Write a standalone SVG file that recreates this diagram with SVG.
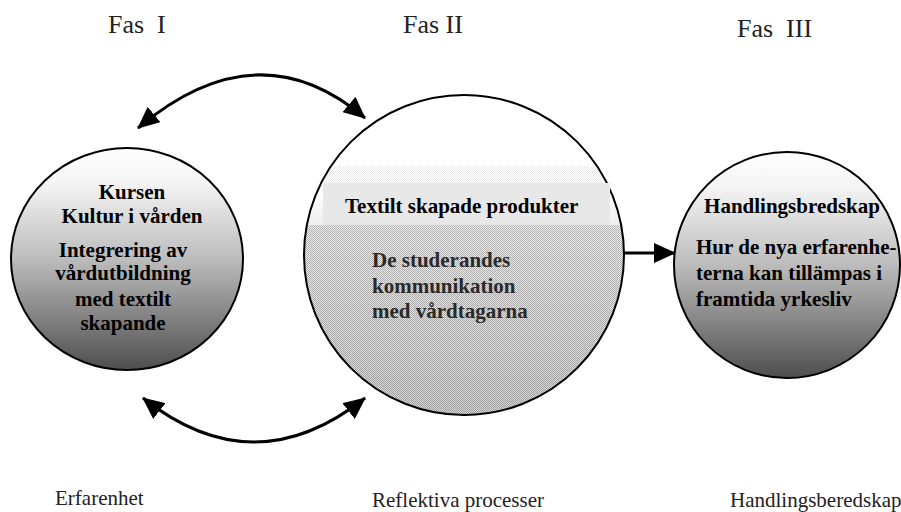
<svg xmlns="http://www.w3.org/2000/svg" width="901" height="512" viewBox="0 0 901 512">
  <style>
    .phase { font-family: "Liberation Serif", "Times New Roman", serif; font-size: 26px; fill: #222; white-space: pre; }
    .foot { font-family: "Liberation Serif", "Times New Roman", serif; font-size: 21px; fill: #222; }
    .node-text { font-family: "Liberation Serif", "Times New Roman", serif; font-size: 21px; font-weight: bold; fill: #000; }
    .soft-text { font-family: "Liberation Serif", "Times New Roman", serif; font-size: 21px; font-weight: bold; fill: #2a2a2a; }
    .ring { stroke: #000; stroke-width: 2; }
    .link { fill: none; stroke: #000; stroke-width: 3; }
  </style>
  <defs>
    <linearGradient id="sideFill" x1="0" y1="0" x2="0" y2="1">
      <stop offset="0" stop-color="#ffffff"/>
      <stop offset="0.15" stop-color="#f5f5f5"/>
      <stop offset="0.5" stop-color="#bcbcbc"/>
      <stop offset="1" stop-color="#4e4e4e"/>
    </linearGradient>
    <linearGradient id="midFill" gradientUnits="userSpaceOnUse" x1="0" y1="95" x2="0" y2="415">
      <stop offset="0" stop-color="#ffffff"/>
      <stop offset="0.3" stop-color="#ffffff"/>
      <stop offset="0.42" stop-color="#ececec"/>
      <stop offset="1" stop-color="#d2d2d2"/>
    </linearGradient>
    <pattern id="halftone" width="2" height="2" patternUnits="userSpaceOnUse">
      <rect x="0" y="0" width="1" height="1" fill="#000"/>
      <rect x="1" y="1" width="1" height="1" fill="#000"/>
    </pattern>
    <clipPath id="midClip">
      <circle cx="464" cy="255" r="160"/>
    </clipPath>
    <marker id="head" viewBox="0 0 22 20" refX="21" refY="10" markerWidth="22" markerHeight="20" markerUnits="userSpaceOnUse" orient="auto-start-reverse">
      <path d="M0 0 L22 10 L0 20 Z" fill="#000"/>
    </marker>
  </defs>

  <!-- phase headings -->
  <text class="phase" x="108" y="33">Fas  I</text>
  <text class="phase" x="403" y="33">Fas II</text>
  <text class="phase" x="737" y="37">Fas  III</text>

  <!-- connectors -->
  <g id="connectors">
    <path class="link" d="M 138 128 Q 258 27 365 118" marker-start="url(#head)" marker-end="url(#head)"/>
    <path class="link" d="M 143 398 Q 254 486 365 398" marker-start="url(#head)" marker-end="url(#head)"/>
    <path class="link" d="M 624 253 L 675 253" marker-end="url(#head)"/>
  </g>

  <!-- phase I: the course -->
  <g id="node-kursen">
    <ellipse class="ring" cx="127" cy="259" rx="116" ry="111" fill="url(#sideFill)"/>
    <text class="node-text" text-anchor="middle" x="132" y="199">Kursen</text>
    <text class="node-text" text-anchor="middle" x="132" y="223">Kultur i vården</text>
    <text class="node-text" text-anchor="middle" x="123" y="257">Integrering av</text>
    <text class="node-text" text-anchor="middle" x="123" y="280">vårdutbildning</text>
    <text class="node-text" text-anchor="middle" x="123" y="306">med textilt</text>
    <text class="node-text" text-anchor="middle" x="123" y="330">skapande</text>
  </g>

  <!-- phase II: reflective processes -->
  <g id="node-produkter">
    <circle cx="464" cy="255" r="160" fill="url(#midFill)"/>
    <g clip-path="url(#midClip)">
      <rect x="300" y="166" width="330" height="17" fill="url(#halftone)" opacity="0.08"/>
      <rect x="300" y="225" width="330" height="195" fill="url(#halftone)" opacity="0.24"/>
    </g>
    <circle class="ring" cx="464" cy="255" r="160" fill="none"/>
    <rect x="323" y="183" width="287" height="42" fill="#e8e8e8"/>
    <text class="node-text" x="345" y="213">Textilt skapade produkter</text>
    <text class="soft-text" x="372" y="267">De studerandes</text>
    <text class="soft-text" x="372" y="293">kommunikation</text>
    <text class="soft-text" x="372" y="318">med vårdtagarna</text>
  </g>

  <!-- phase III: readiness to act -->
  <g id="node-handling">
    <ellipse class="ring" cx="787" cy="265" rx="113" ry="113" fill="url(#sideFill)"/>
    <text class="node-text" text-anchor="middle" x="792" y="213">Handlingsbredskap</text>
    <text class="node-text" x="696" y="254">Hur de nya erfarenhe-</text>
    <text class="node-text" x="696" y="280">terna kan tillämpas i</text>
    <text class="node-text" x="696" y="306">framtida yrkesliv</text>
  </g>

  <!-- phase captions -->
  <text class="foot" x="55" y="505">Erfarenhet</text>
  <text class="foot" x="372" y="507">Reflektiva processer</text>
  <text class="foot" x="730" y="507">Handlingsberedskap</text>
</svg>
